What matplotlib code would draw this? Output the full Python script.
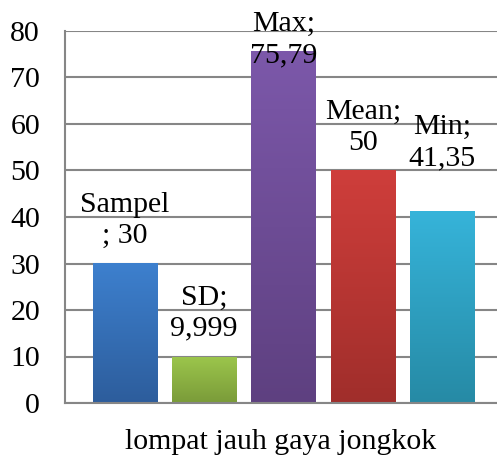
import matplotlib
matplotlib.use("Agg")
import matplotlib.pyplot as plt
import numpy as np
from matplotlib.colors import LinearSegmentedColormap

# ---- data ----
categories = ["Sampel", "SD", "Max", "Mean", "Min"]
values = [30, 9.999, 75.79, 50, 41.35]
value_labels = ["30", "9,999", "75,79", "50", "41,35"]
yticks = [0, 10, 20, 30, 40, 50, 60, 70, 80]
xlabel = "lompat jauh gaya jongkok"

# ---- style ----
top_colors = ["#3D80CE", "#9CC64C", "#7C58AA", "#CF3E3B", "#36B4DA"]
bot_colors = ["#2D5D9C", "#7A9B39", "#5E4080", "#A02E2B", "#268AA5"]
label_text = ["Sampel\n; ", "SD;\n", "Max;\n", "Mean;\n", "Min;\n"]
label_offset_px = [43.5, 43.5, 11, 43, 68]

plt.rcParams["font.family"] = ["Liberation Serif", "DejaVu Serif"]
W, H, DPI = 497, 461, 100
fig = plt.figure(figsize=(W / DPI, H / DPI), dpi=DPI)
left, right, bottom, top = 65, 497, 58, 430  # pixels (bottom from bottom edge)
ax = fig.add_axes([left / W, bottom / H, (right - left) / W, (top - bottom) / H])

x = np.arange(len(categories))
width = 0.808
bars = ax.bar(x, values, width=width, color=top_colors, zorder=3, linewidth=0)

ax.set_yticks(yticks)
ax.set_yticklabels([str(t) for t in yticks], fontsize=21.5)
ax.tick_params(axis="y", length=0, pad=18)
ax.set_xticks([])
ax.grid(axis="y", color="#868686", linewidth=1.5, zorder=0)
for s in ["top", "right"]:
    ax.spines[s].set_visible(False)
for s in ["left", "bottom"]:
    ax.spines[s].set_color("#868686")
    ax.spines[s].set_linewidth(1.5)
    ax.spines[s].set_zorder(4)

# gradient fill for each bar
for b, c1, c2 in zip(bars, top_colors, bot_colors):
    cmap = LinearSegmentedColormap.from_list("g", [c2, c1])
    x0, y0 = b.get_x(), b.get_y()
    w, h = b.get_width(), b.get_height()
    grad = np.linspace(0, 1, 256).reshape(-1, 1)
    im = ax.imshow(grad, cmap=cmap, aspect="auto", origin="lower",
                   extent=[x0, x0 + w, y0, y0 + h], zorder=3.5)
    im.set_clip_path(b)
ax.set_xlim(-0.757, 4.694)
ax.set_ylim(0, 80)

# data labels
for xi, v, lt, vl, off in zip(x, values, label_text, value_labels, label_offset_px):
    ax.annotate(lt + vl, xy=(xi, v), xytext=(0, off * 72 / DPI),
                textcoords="offset points", ha="center", va="center",
                fontsize=21.5, linespacing=1.25, zorder=6, annotation_clip=False)

ax.set_xlabel(xlabel, fontsize=21.5, labelpad=19)

fig.savefig("out.png", dpi=DPI)
